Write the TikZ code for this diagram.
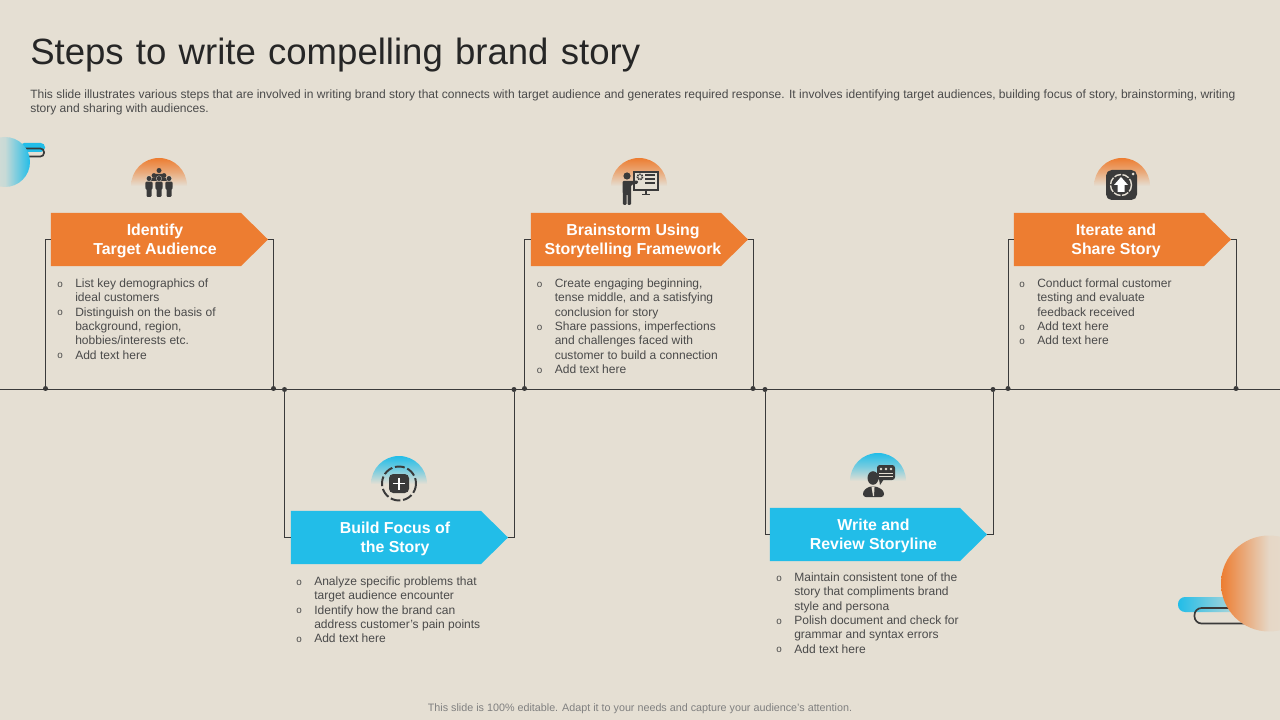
\documentclass[tikz,border=0pt]{standalone}
\usepackage{fontspec}
\setmainfont{Liberation Sans}
\usepackage{xcolor}
\usetikzlibrary{arrows.meta,shapes.symbols,positioning,calc}
\definecolor{slidebg}{HTML}{E5DFD3}
\definecolor{stepfire}{HTML}{ED7D31}
\definecolor{stepsky}{HTML}{22BDE8}
\definecolor{icondark}{HTML}{3A3A3A}
\definecolor{bodygrey}{HTML}{4A4A4A}
\newcommand{\bul}{\makebox[0.475cm][l]{\hspace{0.025cm}\raisebox{0.2pt}{\fontsize{7}{7}\selectfont o}}}
\newcommand{\ind}{\hspace*{0.475cm}}
% small standing figure: x, head y, foot y
\newcommand{\crewman}[3]{
  \fill[icondark] (#1,#2) circle (2.5);
  \fill[icondark, rounded corners=0.8pt]
    (#1-3.7,#2+3.2) -- (#1+3.7,#2+3.2) -- (#1+3.7,#2+10) -- (#1+2.5,#2+10) -- (#1+2.5,#3)
    -- (#1-2.5,#3) -- (#1-2.5,#2+10) -- (#1-3.7,#2+10) -- cycle;
}
\begin{document}
\begin{tikzpicture}[
  x=0.025cm, y=-0.025cm,
  every node/.style={font=\small},
  firestep/.style={signal, signal to=east, signal pointer angle=89, fill=stepfire,
                minimum width=5.425cm, minimum height=1.325cm, inner sep=0pt},
  skystep/.style={firestep, fill=stepsky},
  steplabel/.style={align=center, inner sep=0pt, text=white,
                font=\fontsize{11.3}{13.6}\selectfont\bfseries},
  bodytext/.style={anchor=north west, align=left, inner sep=0pt, text=bodygrey,
                font=\fontsize{8.55}{10.2}\selectfont},
  dot/.style={circle, fill=icondark, inner sep=0pt, minimum size=0.125cm},
  wire/.style={draw=icondark, line width=0.7pt},
  halofire/.style={top color=stepfire, bottom color=slidebg, middle color=slidebg!45!stepfire},
  halosky/.style={top color=stepsky, bottom color=slidebg, middle color=slidebg!45!stepsky},
]
\useasboundingbox (0,0) rectangle (1280,720);
\fill[slidebg] (0,0) rectangle (1280,720);

%% ── Corner decorations ────────────────────────────────────────────────────
\fill[stepsky, rounded corners=3pt] (20,143) rectangle (45,152);
\draw[icondark, line width=1.2pt, rounded corners=2.5pt] (20,148.5) -- (44,148.5) -- (44,156.5) -- (20,156.5);
\shade[left color=slidebg, right color=stepsky, middle color=slidebg!85!stepsky] (5,162) circle (25);

\shade[left color=stepsky, right color=slidebg!85!stepsky, rounded corners=5pt] (1178,597) rectangle (1245,612);
\draw[icondark, line width=1.2pt, rounded corners=5pt] (1250,608) -- (1194.5,608) -- (1194.5,623.5) -- (1250,623.5);
\shade[left color=stepfire, right color=slidebg, middle color=slidebg!92!stepfire] (1269,583.5) circle (48);

%% ── Header ────────────────────────────────────────────────────────────────
\node[anchor=base west, inner sep=0pt, text=black!85, font=\fontsize{26}{30}\selectfont]
  (title) at (30,64.5) {\spaceskip=8.7pt Steps to write compelling brand story};
\node[bodytext, font=\fontsize{8.55}{10}\selectfont] (intro) at (30,89.5)
  {This slide illustrates various steps that are involved in writing brand story that connects with target audience and generates required response. It involves identifying target audiences, building focus of story, brainstorming, writing\\story and sharing with audiences.};
\node[text=black!50, inner sep=0pt, font=\fontsize{7.65}{9}\selectfont] (foot) at (640,708.5)
  {This slide is 100\% editable.  Adapt it to your needs and capture your audience's attention.};

%% ── Timeline ──────────────────────────────────────────────────────────────
\coordinate (lineL) at (0,389);
\coordinate (lineR) at (1280,389);
\draw[wire] (lineL) -- (lineR);
\node[dot] (d1a) at (45.5,388.5)  {};
\node[dot] (d1b) at (273.5,388.5) {};
\node[dot] (d2a) at (284.5,389.5) {};
\node[dot] (d2b) at (514,389.5)   {};
\node[dot] (d3a) at (524.5,388.5) {};
\node[dot] (d3b) at (753,388.5)   {};
\node[dot] (d4a) at (765,389.5)   {};
\node[dot] (d4b) at (993,389.5)   {};
\node[dot] (d5a) at (1008,388.5)  {};
\node[dot] (d5b) at (1236,388.5)  {};

%% ── Steps ─────────────────────────────────────────────────────────────────
\node[firestep] (s1) at (146,239.5)  {};
\node[skystep]  (s2) at (386,537.5) {};
\node[firestep] (s3) at (626,239.5)  {};
\node[skystep]  (s4) at (865,534.5) {};
\node[firestep] (s5) at (1109,239.5) {};

\node[steplabel] (l1) at (155,240.5)    {Identify\\Target Audience};
\node[steplabel] (l2) at (395,539)  {Build Focus of\\the Story};
\node[steplabel] (l3) at (633,240.5)    {Brainstorm Using\\Storytelling Framework};
\node[steplabel] (l4) at (873.5,536) {Write and\\Review Storyline};
\node[steplabel] (l5) at (1116,240.5)   {Iterate and\\Share Story};

% drops from the timeline to each step
\draw[wire] (d1a) |- (s1.west);
\draw[wire] (d1b) |- (s1.east);
\draw[wire] (d2a) |- (s2.west);
\draw[wire] (d2b) |- (s2.east);
\draw[wire] (d3a) |- (s3.west);
\draw[wire] (d3b) |- (s3.east);
\draw[wire] (d4a) |- (s4.west);
\draw[wire] (d4b) |- (s4.east);
\draw[wire] (d5a) |- (s5.west);
\draw[wire] (d5b) |- (s5.east);

%% ── Step texts ────────────────────────────────────────────────────────────
\node[bodytext] (t1) at (56,278.5)
  {\bul List key demographics of\\\ind ideal customers\\\bul Distinguish on the basis of\\\ind background, region,\\\ind hobbies/interests etc.\\\bul Add text here};
\node[bodytext] (t2) at (295,576.5)
  {\bul Analyze specific problems that\\\ind target audience encounter\\\bul Identify how the brand can\\\ind address customer's pain points\\\bul Add text here};
\node[bodytext] (t3) at (535.5,278.5)
  {\bul Create engaging beginning,\\\ind tense middle, and a satisfying\\\ind conclusion for story\\\bul Share passions, imperfections\\\ind and challenges faced with\\\ind customer to build a connection\\\bul Add text here};
\node[bodytext] (t4) at (775,572.5)
  {\bul Maintain consistent tone of the\\\ind story that compliments brand\\\ind style and persona\\\bul Polish document and check for\\\ind grammar and syntax errors\\\bul Add text here};
\node[bodytext] (t5) at (1018,278.5)
  {\bul Conduct formal customer\\\ind testing and evaluate\\\ind feedback received\\\bul Add text here\\\bul Add text here};

%% ── Icons ─────────────────────────────────────────────────────────────────
% crew
\shade[halofire] (131,186) arc (180:360:28) -- cycle;
\fill[icondark] (159,170.5) circle (2.5);
\fill[icondark, rounded corners=0.8pt] (155,174) rectangle (163,180);
\foreach \cx in {154,164}{
  \fill[icondark] (\cx,175.5) circle (2.4);
  \fill[icondark, rounded corners=0.8pt] (\cx-3.5,178) rectangle (\cx+3.5,181);
}
\foreach \cx in {149,159,169}{
  \fill[slidebg] (\cx,178.5) circle (2.9);
  \crewman{\cx}{178.5}{197}
}

% board
\shade[halofire] (611,186) arc (180:360:28) -- cycle;
\fill[slidebg] (634,172) rectangle (658,190);
\draw[icondark, line width=1pt] (634,172) rectangle (658,190);
\draw[icondark, line width=1pt] (646,190) -- (646,194) (642,194.5) -- (650,194.5);
\draw[icondark, line width=1.2pt, dash pattern=on 1pt off 0.6pt] (640,177) circle (2.6);
\draw[icondark, line width=1pt] (645,175) -- (655,175) (645,179) -- (655,179) (645,183) -- (655,183);
\fill[icondark] (627,176) circle (3.6);
\fill[icondark, rounded corners=0.8pt] (622.5,181) -- (631,181) -- (638,180.5) -- (638,183.5) -- (631,185)
  -- (631,205) -- (627.5,205) -- (627.5,194) -- (626.5,194) -- (626.5,205) -- (623,205) -- cycle;

% focus
\shade[halosky] (371,484) arc (180:360:28) -- cycle;
\draw[icondark, line width=1.4pt, dash pattern=on 7pt off 2pt] (399,483.5) circle (17);
\fill[icondark, rounded corners=3pt] (389,474) rectangle (409,493);
\draw[white, line width=1.2pt] (393,483.5) -- (405,483.5) (399,477.5) -- (399,489.5);

% share
\shade[halofire] (1094,186) arc (180:360:28) -- cycle;
\fill[icondark, rounded corners=4pt] (1106,170) rectangle (1137,200);
\fill[slidebg] (1133,174) circle (1.5);
\draw[slidebg, line width=1pt, dash pattern=on 5pt off 1pt] (1121,185) circle (10.5);
\fill[white] (1121,177) -- (1128,185) -- (1124.5,185) -- (1124.5,192) -- (1117.5,192) -- (1117.5,185) -- (1114,185) -- cycle;

% writer
\shade[halosky] (850,481) arc (180:360:28) -- cycle;
\fill[icondark, rounded corners=2pt] (877,465) rectangle (895,480);
\fill[icondark] (879,479) -- (884,479) -- (880,485) -- cycle;
\foreach \sx in {881,886,891}
  \fill[slidebg] (\sx,469) circle (1.4);
\draw[slidebg, line width=0.6pt] (879,473.5) -- (893,473.5) (879,476.5) -- (893,476.5);
\fill[icondark] (873,478) ellipse (5.5 and 6.8);
\fill[icondark, rounded corners=2pt] (863,497) -- (863,491) -- (869,486.5) -- (877,486.5) -- (884,491) -- (884,497) -- cycle;
\fill[slidebg] (871.5,487) -- (874.5,487) -- (874,496) -- (873,496) -- cycle;

\end{tikzpicture}
\end{document}
